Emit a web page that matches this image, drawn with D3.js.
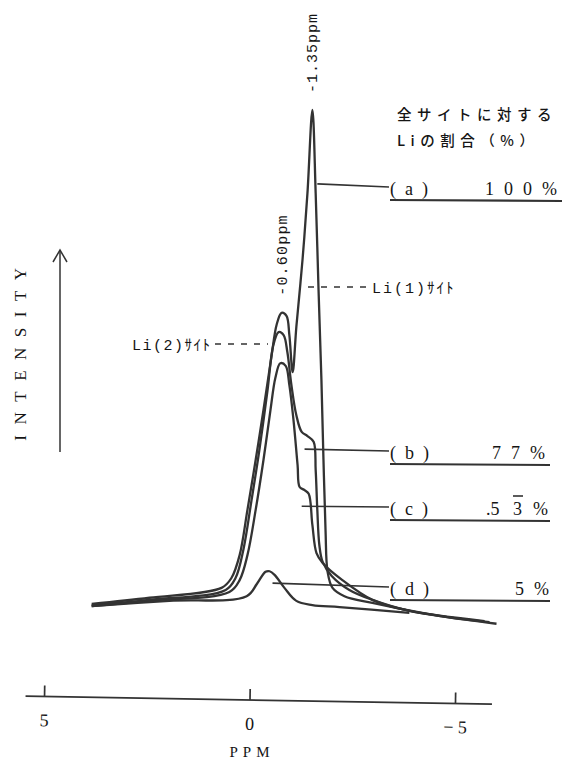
<!DOCTYPE html>
<html><head><meta charset="utf-8">
<script src="https://cdn.jsdelivr.net/npm/d3@7"></script>
<style>body{margin:0;background:#fff}</style>
</head><body>
<svg id="chart" width="566" height="760"></svg>
<script>
// ---------------- data ----------------
const ppmTicks = [5, 0, -5];
const axisExtent = [5.45, -5.9];
const seriesNames = ["(a)", "(b)", "(c)", "(d)"];
const seriesShares = ["100%", "77%", "53%", "5%"];
// [ppm, intensity]
const curveA = [[3.84,5.0],[2.43,6.2],[0.68,8.1],[0.44,10.0],[0.24,14.4],[0.05,23.1],[-0.15,32.7],[-0.34,42.3],[-0.54,52.9],[-0.66,58.7],[-0.78,61.0],[-0.90,60.4],[-0.97,56.7],[-1.05,49.6],[-1.14,58.3],[-1.29,71.2],[-1.41,84.0],[-1.53,100],[-1.61,84.0],[-1.68,65.4],[-1.75,48.1],[-1.80,32.7],[-1.85,19.2],[-1.90,11.2],[-2.02,8.1],[-2.31,6.5],[-2.99,5.2],[-4.62,2.7],[-6.01,1.2]];
const curveB = [[3.84,4.8],[2.43,5.8],[0.58,7.7],[0.34,10.0],[0.15,15.4],[-0.05,25.0],[-0.24,34.6],[-0.44,46.2],[-0.58,54.8],[-0.71,57.3],[-0.83,56.7],[-0.92,53.5],[-1.02,47.1],[-1.14,41.3],[-1.27,38.1],[-1.41,37.3],[-1.56,36.2],[-1.61,30.8],[-1.65,23.1],[-1.70,16.3],[-1.78,13.1],[-2.00,10.4],[-2.43,7.7],[-2.99,5.8],[-3.89,3.7],[-5.84,1.5]];
const curveC = [[3.84,4.6],[2.43,5.6],[0.49,7.3],[0.24,9.6],[0.05,14.4],[-0.15,23.1],[-0.34,32.7],[-0.51,42.3],[-0.63,48.5],[-0.75,51.3],[-0.88,50.8],[-0.97,47.1],[-1.07,40.4],[-1.17,31.7],[-1.22,27.5],[-1.34,26.9],[-1.44,26.2],[-1.53,20.2],[-1.63,14.8],[-1.78,12.9],[-2.26,9.6],[-2.99,5.8],[-3.82,3.8],[-5.72,1.7]];
const curveD = [[3.84,4.6],[1.95,5.6],[0.07,6.5],[-0.19,9.0],[-0.39,11.2],[-0.49,11.3],[-0.61,10.6],[-0.85,8.1],[-1.14,5.6],[-1.53,4.8],[-2.19,4.4],[-3.89,3.3]];
// leader anchor points on curves [ppm, intensity]
const leaderAnchors = [[-1.65,85.8],[-1.34,34.8],[-1.27,23.8],[-0.56,9.0]];
const peakLabels = ["-1.35ppm", "-0.60ppm"];
const siteLabels = ["Li(1)ｻｲﾄ", "Li(2)ｻｲﾄ"];
const titleLines = ["全サイトに対する", "Liの割合（%）"];

// ---------------- layout ----------------
const svg = d3.select("#chart");
const x = d3.scaleLinear().domain([5, -5]).range([44, 455]);
const y = d3.scaleLinear().domain([0, 100]).range([630, 110]);
const ink = "#333", txt = "#151515";
const serif = "'Liberation Serif','DejaVu Serif',serif";
const mono = "'Liberation Mono','Noto Sans CJK JP',monospace";
const jp = "'Noto Sans CJK JP',sans-serif";

// curves
const line = d3.line().x(d => x(d[0])).y(d => y(d[1])).curve(d3.curveCatmullRom.alpha(0.5));
[curveD, curveC, curveB, curveA].forEach(c => {
  svg.append("path").attr("d", line(c)).attr("fill", "none")
    .attr("stroke", ink).attr("stroke-width", 2.3).attr("stroke-linejoin", "round");
});

// leaders + labels
const rowY = [187, 451, 507, 587];
const valueX = [485, 492, 0, 515];
const underEnd = [562, 550, 550, 550];
leaderAnchors.forEach((a, i) => {
  svg.append("line").attr("x1", x(a[0])).attr("y1", y(a[1])).attr("x2", 389).attr("y2", rowY[i])
    .attr("stroke", ink).attr("stroke-width", 1.7);
  svg.append("text").attr("x", 390).attr("y", rowY[i] + 8).attr("font-family", serif)
    .attr("font-size", 18).attr("fill", txt).attr("letter-spacing", 9).text(seriesNames[i]);
  svg.append("line").attr("x1", 390).attr("x2", underEnd[i]).attr("y1", rowY[i] + 13).attr("y2", rowY[i] + 14)
    .attr("stroke", ink).attr("stroke-width", 2.2);
});
// values
[0, 1, 3].forEach(i => {
  svg.append("text").attr("x", valueX[i]).attr("y", rowY[i] + 8).attr("font-family", serif)
    .attr("font-size", 18).attr("fill", txt).attr("letter-spacing", 10).text(seriesShares[i]);
});
// (c) value: .5 3̄ %
svg.append("text").attr("x", 486).attr("y", rowY[2] + 8).attr("font-family", serif)
  .attr("font-size", 18).attr("fill", txt).text(".5");
svg.append("text").attr("x", 513).attr("y", rowY[2] + 8).attr("font-family", serif)
  .attr("font-size", 18).attr("fill", txt).text("3");
svg.append("line").attr("x1", 513).attr("x2", 523).attr("y1", rowY[2] - 11).attr("y2", rowY[2] - 11)
  .attr("stroke", txt).attr("stroke-width", 1.4);
svg.append("text").attr("x", 533).attr("y", rowY[2] + 8).attr("font-family", serif)
  .attr("font-size", 18).attr("fill", txt).text("%");

// title
svg.append("text").attr("x", 397).attr("y", 120).attr("font-family", jp).attr("font-size", 14.5)
  .attr("font-weight", 500).attr("letter-spacing", 5.5).attr("fill", txt).text(titleLines[0]);
svg.append("text").attr("x", 397).attr("y", 146).attr("font-family", jp).attr("font-size", 14.5)
  .attr("font-weight", 500).attr("letter-spacing", 5.5).attr("fill", txt).text(titleLines[1]);

// peak labels (vertical)
svg.append("text").attr("transform", `translate(${x(-1.53) + 5},53) rotate(-90)`)
  .attr("text-anchor", "middle").attr("font-family", mono).attr("font-size", 15)
  .attr("letter-spacing", 1).attr("fill", txt).text(peakLabels[0]);
svg.append("text").attr("transform", `translate(${x(-0.80) + 5},255) rotate(-90)`)
  .attr("text-anchor", "middle").attr("font-family", mono).attr("font-size", 15)
  .attr("letter-spacing", 1.2).attr("fill", txt).text(peakLabels[1]);

// site labels with dashed leaders
svg.append("line").attr("x1", 308).attr("x2", 368).attr("y1", 287).attr("y2", 287)
  .attr("stroke", ink).attr("stroke-width", 1.6).attr("stroke-dasharray", "6,7");
svg.append("text").attr("x", 372).attr("y", 293).attr("font-family", mono).attr("font-size", 15)
  .attr("letter-spacing", 2).attr("fill", txt).text(siteLabels[0]);
svg.append("text").attr("x", 132).attr("y", 350).attr("font-family", mono).attr("font-size", 15)
  .attr("letter-spacing", 1.5).attr("fill", txt).text(siteLabels[1]);
svg.append("line").attr("x1", 215).attr("x2", 268).attr("y1", 344).attr("y2", 344)
  .attr("stroke", ink).attr("stroke-width", 1.6).attr("stroke-dasharray", "6,7");

// intensity arrow
svg.append("line").attr("x1", 60).attr("x2", 60).attr("y1", 452).attr("y2", 250)
  .attr("stroke", ink).attr("stroke-width", 1.5);
svg.append("path").attr("d", "M53,262 L60,250 L67,262").attr("fill", "none")
  .attr("stroke", ink).attr("stroke-width", 1.5);
svg.append("text").attr("transform", "translate(26,349) rotate(-90)")
  .attr("text-anchor", "middle").attr("font-family", serif).attr("font-size", 17)
  .attr("letter-spacing", 10.5).attr("fill", txt).text("INTENSITY");

// x axis (slightly tilted, as drawn)
const ax = svg.append("g").attr("transform", "rotate(0.98 250 700) translate(0,700)");
ax.call(d3.axisBottom(x).tickValues(ppmTicks).tickSizeInner(-11).tickSizeOuter(0).tickPadding(17)
  .tickFormat(d => d < 0 ? "− " + Math.abs(d) : d));
ax.select(".domain").remove();
ax.append("line").attr("x1", x(axisExtent[0])).attr("x2", x(axisExtent[1])).attr("y1", 0).attr("y2", 0)
  .attr("stroke", ink).attr("stroke-width", 1.7);
ax.selectAll(".tick line").attr("stroke", ink).attr("stroke-width", 1.7);
ax.selectAll(".tick text").attr("font-family", serif).attr("font-size", 18).attr("fill", txt);
svg.append("text").attr("x", 252).attr("y", 757).attr("text-anchor", "middle")
  .attr("font-family", serif).attr("font-size", 15).attr("letter-spacing", 5).attr("fill", txt).text("PPM");
</script>
</body></html>
